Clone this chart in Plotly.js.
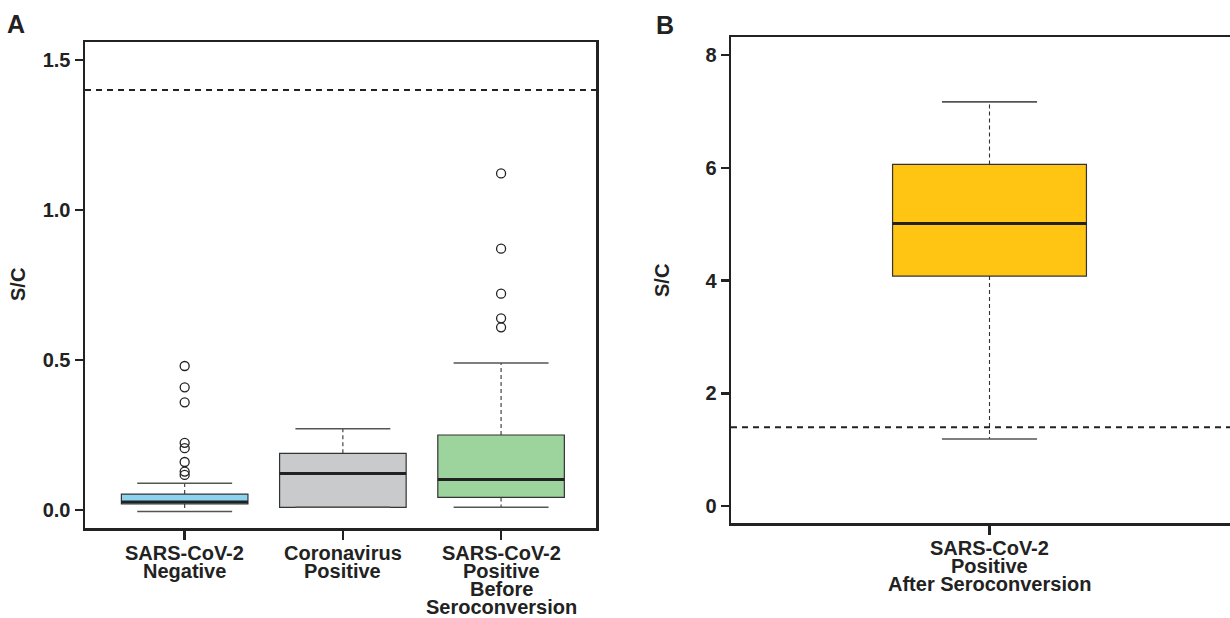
<!DOCTYPE html>
<html>
<head>
<meta charset="utf-8">
<script src="https://cdn.plot.ly/plotly-3.0.1.min.js"></script>
<style>
html,body{margin:0;padding:0;overflow:hidden;background:#fff;width:1230px;height:618px;}
#chart{width:1260px;height:618px;}
</style>
</head>
<body>
<div id="chart"></div>
<script>
// ---------- data ----------
const tickLinesA = [
  ['SARS-CoV-2', 'Negative'],
  ['Coronavirus', 'Positive'],
  ['SARS-CoV-2', 'Positive', 'Before', 'Seroconversion']
];
const q1A = [0.020, 0.009, 0.042];
const medianA = [0.027, 0.122, 0.102];
const q3A = [0.053, 0.189, 0.250];
const lowerA = [-0.005, 0.009, 0.009];
const upperA = [0.089, 0.271, 0.490];
const outliersA = [
  [0.480, 0.409, 0.359, 0.224, 0.206, 0.160, 0.128, 0.117],
  [],
  [1.122, 0.871, 0.721, 0.639, 0.609]
];
const fillA = ['#8dd3f0', '#c9cacc', '#9dd39c'];

const tickLinesB = [['SARS-CoV-2', 'Positive', 'After Seroconversion']];
const q1B = [4.08];
const medianB = [5.01];
const q3B = [6.06];
const lowerB = [1.19];
const upperB = [7.17];
const fillB = ['#ffc512'];

const cutoff = 1.4;
const yTicksA = [0, 0.5, 1.0, 1.5];
const yTicksB = [0, 2, 4, 6, 8];

// ---------- styling ----------
const FONT = 'Liberation Sans, Arial, Helvetica, sans-serif';
const DARK = '#222222';
const W = 1260, H = 618;

function boxTraces(xa, ya, q1, med, q3, lo, hi, fills, halfBox, halfCap) {
  const tr = [];
  q1.forEach((v, i) => {
    tr.push({
      type: 'box', xaxis: xa, yaxis: ya, x: [i],
      q1: [q1[i]], median: [med[i]], q3: [q3[i]],
      lowerfence: [q1[i]], upperfence: [q3[i]],
      width: halfBox * 2, whiskerwidth: 0, boxpoints: false,
      fillcolor: fills[i], line: {color: '#333333', width: 1.2},
      hoverinfo: 'skip', showlegend: false
    });
    tr.push({
      type: 'scatter', mode: 'lines', xaxis: xa, yaxis: ya,
      x: [i, i, null, i, i], y: [q3[i], hi[i], null, q1[i], lo[i]],
      line: {color: '#333333', width: 1.1, dash: '4px,3px'},
      hoverinfo: 'skip', showlegend: false
    });
    tr.push({
      type: 'scatter', mode: 'lines', xaxis: xa, yaxis: ya,
      x: [i - halfCap, i + halfCap, null, i - halfCap, i + halfCap],
      y: [hi[i], hi[i], null, lo[i], lo[i]],
      line: {color: '#555555', width: 1.6},
      hoverinfo: 'skip', showlegend: false
    });
    tr.push({
      type: 'scatter', mode: 'lines', xaxis: xa, yaxis: ya,
      x: [i - halfBox, i + halfBox], y: [med[i], med[i]],
      line: {color: DARK, width: 3},
      hoverinfo: 'skip', showlegend: false
    });
  });
  return tr;
}

let traces = [];
traces = traces.concat(boxTraces('x', 'y', q1A, medianA, q3A, lowerA, upperA, fillA, 0.4, 0.3));
outliersA.forEach((arr, i) => {
  if (!arr.length) return;
  traces.push({
    type: 'scatter', mode: 'markers', xaxis: 'x', yaxis: 'y',
    x: arr.map(() => i), y: arr,
    marker: {symbol: 'circle-open', size: 9, color: DARK, line: {width: 1.3, color: DARK}},
    hoverinfo: 'skip', showlegend: false
  });
});
traces = traces.concat(boxTraces('x2', 'y2', q1B, medianB, q3B, lowerB, upperB, fillB, 0.375, 0.184));

const ann = [];
ann.push({text: '<b>A</b>', xref: 'paper', yref: 'paper', x: 16 / W, y: 1 - 24 / H,
  xanchor: 'center', yanchor: 'middle', showarrow: false, font: {family: FONT, size: 25, color: DARK}});
ann.push({text: '<b>B</b>', xref: 'paper', yref: 'paper', x: 665 / W, y: 1 - 25 / H,
  xanchor: 'center', yanchor: 'middle', showarrow: false, font: {family: FONT, size: 25, color: DARK}});
ann.push({text: '<b>S/C</b>', xref: 'paper', yref: 'paper', x: 18 / W, y: 1 - 285 / H, textangle: -90,
  xanchor: 'center', yanchor: 'middle', showarrow: false, font: {family: FONT, size: 20, color: DARK}});
ann.push({text: '<b>S/C</b>', xref: 'paper', yref: 'paper', x: 662 / W, y: 1 - 281 / H, textangle: -90,
  xanchor: 'center', yanchor: 'middle', showarrow: false, font: {family: FONT, size: 20, color: DARK}});

function labelAnn(lines, xref, yref) {
  lines.forEach((ls, i) => {
    ls.forEach((t, j) => {
      ann.push({text: '<b>' + t + '</b>', xref: xref, yref: yref, x: i, y: 0,
        xanchor: 'center', yanchor: 'top', yshift: -13 - 18 * j, showarrow: false,
        borderpad: 0, font: {family: FONT, size: 20, color: DARK}});
    });
  });
}
labelAnn(tickLinesA, 'x', 'y domain');
labelAnn(tickLinesB, 'x2', 'y2 domain');

const axLine = {showline: true, mirror: true, linecolor: DARK, linewidth: 2.5,
  showgrid: false, zeroline: false, ticks: 'outside', tickcolor: DARK, tickwidth: 2.5};
const tickFont = {family: FONT, size: 20, color: DARK, weight: 700};

const layout = {
  width: W, height: H,
  margin: {l: 0, r: 0, t: 0, b: 0},
  paper_bgcolor: '#ffffff', plot_bgcolor: '#ffffff',
  showlegend: false,
  xaxis: Object.assign({}, axLine, {domain: [85 / W, 596 / W], range: [-0.63, 2.6],
    tickvals: [0, 1, 2], showticklabels: false, ticklen: 9, anchor: 'y'}),
  yaxis: Object.assign({}, axLine, {domain: [1 - 528 / H, 1 - 42 / H], range: [-0.06, 1.56],
    tickvals: yTicksA, ticktext: yTicksA.map(v => v.toFixed(1)), ticklen: 8, tickfont: tickFont, anchor: 'x'}),
  xaxis2: Object.assign({}, axLine, {domain: [731 / W, 1248 / W], range: [-1, 1],
    tickvals: [0], showticklabels: false, ticklen: 9, anchor: 'y2'}),
  yaxis2: Object.assign({}, axLine, {domain: [1 - 523 / H, 1 - 37 / H], range: [-0.30, 8.32],
    tickvals: yTicksB, ticktext: yTicksB.map(String), ticklen: 8, tickfont: tickFont, anchor: 'x2'}),
  shapes: [
    {type: 'line', xref: 'x domain', yref: 'y', x0: 0, x1: 1, y0: cutoff, y1: cutoff,
      line: {color: DARK, width: 2, dash: '6px,5px'}},
    {type: 'line', xref: 'x2 domain', yref: 'y2', x0: 0, x1: 1, y0: cutoff, y1: cutoff,
      line: {color: DARK, width: 2, dash: '6px,5px'}}
  ],
  annotations: ann
};

Plotly.newPlot('chart', traces, layout, {staticPlot: true, displayModeBar: false});
</script>
</body>
</html>
